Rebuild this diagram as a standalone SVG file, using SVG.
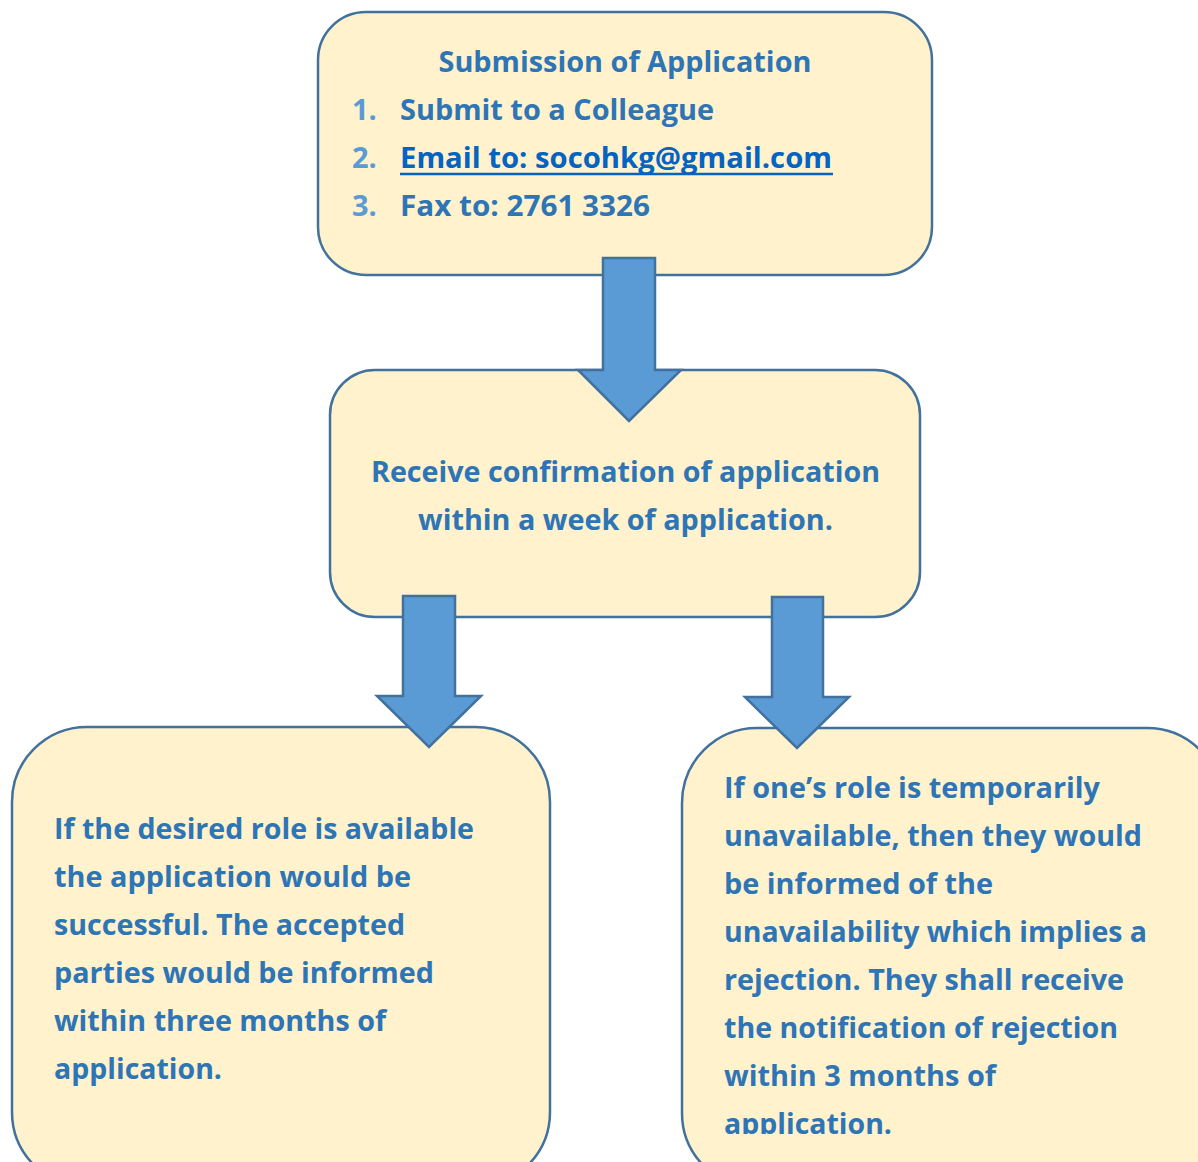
<svg xmlns="http://www.w3.org/2000/svg" width="1198" height="1162" viewBox="0 0 1198 1162">
<defs>
<style>
.box{fill:#FFF2CC;stroke:#41719C;stroke-width:2.5}
.arrow{fill:#5B9BD5;stroke:#41719C;stroke-width:2.5;stroke-linejoin:miter}
text{font-family:"Open Sans","Liberation Sans",sans-serif;font-weight:bold;font-size:29px;fill:#2E75B6}
.num{fill:#5B9BD5}
.link{fill:#0563C1}
</style>
<clipPath id="clip4"><rect x="682" y="728" width="516" height="406"/></clipPath>
</defs>
<rect width="1198" height="1162" fill="#FFFFFF"/>
<g id="node-submission">
<rect class="box" x="318" y="12" width="614" height="263" rx="48" ry="48"/>
<text x="625" y="72" text-anchor="middle" textLength="373" lengthAdjust="spacingAndGlyphs">Submission of Application</text>
<text class="num" x="352" y="120">1.</text>
<text x="400" y="120" textLength="314" lengthAdjust="spacingAndGlyphs">Submit to a Colleague</text>
<text class="num" x="352" y="168">2.</text>
<text class="link" x="400" y="168" textLength="432" lengthAdjust="spacingAndGlyphs">Email to: socohkg@gmail.com</text>
<line x1="400" y1="174" x2="833" y2="174" stroke="#0563C1" stroke-width="2.5"/>
<text class="num" x="352" y="216">3.</text>
<text x="400" y="216" textLength="250" lengthAdjust="spacingAndGlyphs">Fax to: 2761 3326</text>
</g>
<g id="node-confirmation">
<rect class="box" x="330" y="370" width="590" height="247" rx="45" ry="45"/>
<text x="625.5" y="482" text-anchor="middle" textLength="509" lengthAdjust="spacingAndGlyphs">Receive confirmation of application</text>
<text x="625.5" y="530" text-anchor="middle" textLength="415" lengthAdjust="spacingAndGlyphs">within a week of application.</text>
</g>
<g id="node-available">
<rect class="box" x="12" y="727" width="538" height="460" rx="75" ry="75"/>
<text x="54" y="839" textLength="420" lengthAdjust="spacingAndGlyphs">If the desired role is available</text>
<text x="54" y="887" textLength="357" lengthAdjust="spacingAndGlyphs">the application would be</text>
<text x="54" y="935" textLength="351" lengthAdjust="spacingAndGlyphs">successful. The accepted</text>
<text x="54" y="983" textLength="380" lengthAdjust="spacingAndGlyphs">parties would be informed</text>
<text x="54" y="1031" textLength="332" lengthAdjust="spacingAndGlyphs">within three months of</text>
<text x="54" y="1079" textLength="168" lengthAdjust="spacingAndGlyphs">application.</text>
</g>
<g id="node-unavailable">
<rect class="box" x="682" y="728" width="540" height="460" rx="75" ry="75"/>
<g clip-path="url(#clip4)">
<text x="724" y="798" textLength="376" lengthAdjust="spacingAndGlyphs">If one’s role is temporarily</text>
<text x="724" y="846" textLength="418" lengthAdjust="spacingAndGlyphs">unavailable, then they would</text>
<text x="724" y="894" textLength="269" lengthAdjust="spacingAndGlyphs">be informed of the</text>
<text x="724" y="942" textLength="423" lengthAdjust="spacingAndGlyphs">unavailability which implies a</text>
<text x="724" y="990" textLength="400" lengthAdjust="spacingAndGlyphs">rejection. They shall receive</text>
<text x="724" y="1038" textLength="394" lengthAdjust="spacingAndGlyphs">the notification of rejection</text>
<text x="724" y="1086" textLength="272" lengthAdjust="spacingAndGlyphs">within 3 months of</text>
<text x="724" y="1134" textLength="168" lengthAdjust="spacingAndGlyphs">application.</text>
</g>
</g>
<g id="connectors">
<polygon class="arrow" points="603,258 655,258 655,370 681,370 629,421 578,370 603,370"/>
<polygon class="arrow" points="403,596 455,596 455,696 481,696 429,747 377,696 403,696"/>
<polygon class="arrow" points="772,597 823,597 823,697 849,697 797,748 745,697 772,697"/>
</g>
</svg>
